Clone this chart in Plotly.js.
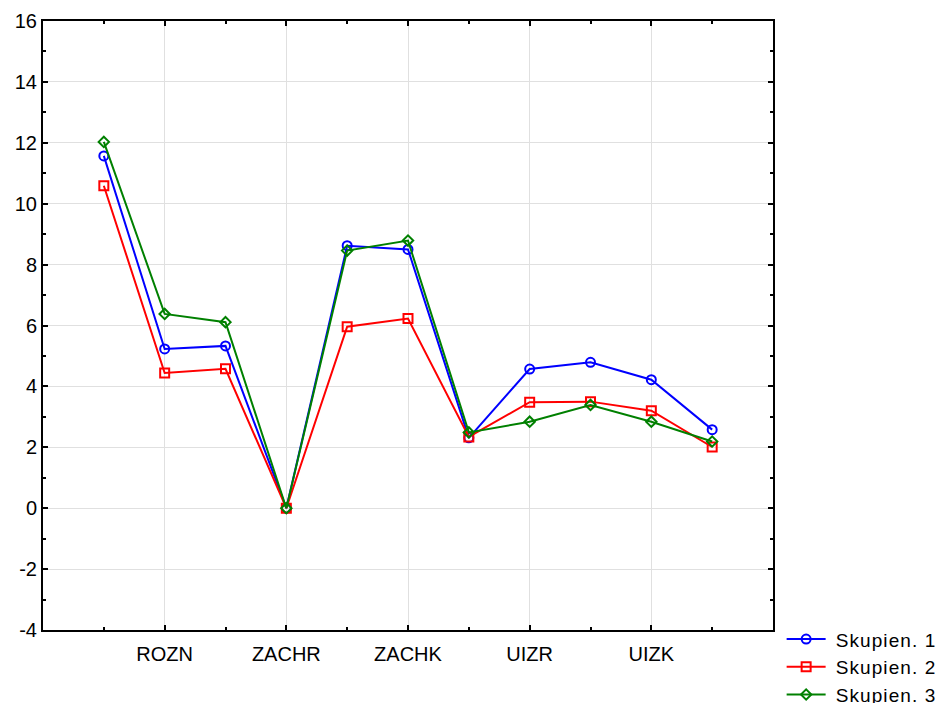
<!DOCTYPE html>
<html>
<head>
<meta charset="utf-8">
<script src="https://cdn.plot.ly/plotly-3.0.1.min.js"></script>
<style>
html,body{margin:0;padding:0;background:#fff;}
#chart{width:943px;height:703px;}
#chart .legendtext{letter-spacing:1.1px;}
</style>
</head>
<body>
<div id="chart"></div>
<script>
// Category positions (11 variables); only every other one is labelled on the axis
const positions = [0, 1, 2, 3, 4, 5, 6, 7, 8, 9, 10];
const labelPositions = [1, 3, 5, 7, 9];
const tickLabels = ["ROZN", "ZACHR", "ZACHK", "UIZR", "UIZK"];
const minorPositions = [0, 2, 4, 6, 8, 10];
const yTickVals = [-4, -2, 0, 2, 4, 6, 8, 10, 12, 14, 16];
const yTickText = ["-4", "-2", "0", "2", "4", "6", "8", "10", "12", "14", "16"];

const seriesNames = ["Skupien. 1", "Skupien. 2", "Skupien. 3"];
const skupien1 = [11.57, 5.23, 5.33, 0.0, 8.62, 8.50, 2.31, 4.57, 4.79, 4.22, 2.58];
const skupien2 = [10.59, 4.44, 4.58, 0.0, 5.96, 6.23, 2.34, 3.48, 3.50, 3.20, 2.01];
const skupien3 = [12.03, 6.38, 6.11, 0.0, 8.46, 8.79, 2.49, 2.84, 3.39, 2.84, 2.19];

const colors = ["#0000ff", "#ff0000", "#008000"];
const symbols = ["circle-open", "square-open", "diamond-open"];
const sizes = [9, 9, 8];
const values = [skupien1, skupien2, skupien3];

const traces = values.map((v, i) => ({
  x: positions,
  y: v,
  name: seriesNames[i],
  type: "scatter",
  mode: "lines+markers",
  line: {color: colors[i], width: 2},
  marker: {symbol: symbols[i], size: sizes[i], color: colors[i], line: {width: 2, color: colors[i]}}
}));

const fam = "Liberation Sans, Arial, sans-serif";
const tickFont = {family: fam, size: 20, color: "#000"};
const legendFont = {family: fam, size: 19, color: "#000"};

const layout = {
  width: 943, height: 703,
  margin: {l: 43, r: 170, t: 21, b: 73, autoexpand: false},
  paper_bgcolor: "#fff", plot_bgcolor: "#fff",
  font: tickFont,
  showlegend: true,
  legend: {x: 1.031, xanchor: "left", y: 0.016, yanchor: "top", font: legendFont, bgcolor: "rgba(0,0,0,0)", tracegroupgap: 0},
  xaxis: {
    range: [-1, 11],
    tickmode: "array", tickvals: labelPositions, ticktext: tickLabels,
    ticks: "inside", ticklen: 5, tickwidth: 2, tickcolor: "#000",
    showgrid: true, gridcolor: "#e0e0e0", gridwidth: 1,
    zeroline: false,
    showline: true, linecolor: "#000", linewidth: 2, mirror: "allticks",
    ticklabelstandoff: 5,
    tickfont: tickFont,
    minor: {tickmode: "array", tickvals: minorPositions, ticks: "inside", ticklen: 3, tickwidth: 2, tickcolor: "#000", showgrid: false}
  },
  yaxis: {
    range: [-4, 16],
    tickmode: "array", tickvals: yTickVals, ticktext: yTickText,
    ticks: "inside", ticklen: 5, tickwidth: 2, tickcolor: "#000",
    showgrid: true, gridcolor: "#e0e0e0", gridwidth: 1,
    zeroline: false,
    showline: true, linecolor: "#000", linewidth: 2, mirror: "allticks",
    tickfont: tickFont,
    minor: {dtick: 1, tick0: -4, ticks: "inside", ticklen: 3, tickwidth: 2, tickcolor: "#000", showgrid: false}
  }
};

Plotly.newPlot("chart", traces, layout, {displayModeBar: false, staticPlot: true}).then(function (gd) {
  // Let the letter-spaced legend text run to the page edge as in the reference
  gd.querySelectorAll(".legend [clip-path]").forEach(function (el) {
    el.removeAttribute("clip-path");
  });
  // Lengthen the legend sample lines to match the reference (line from -9 to 30, marker centred)
  gd.querySelectorAll(".legend .legendlines path").forEach(function (p) {
    p.setAttribute("d", "M-9,0h39");
  });
  gd.querySelectorAll(".legend .legendpoints path.scatterpts").forEach(function (p) {
    p.setAttribute("transform", "translate(10.5,0)");
  });
});
</script>
</body>
</html>
